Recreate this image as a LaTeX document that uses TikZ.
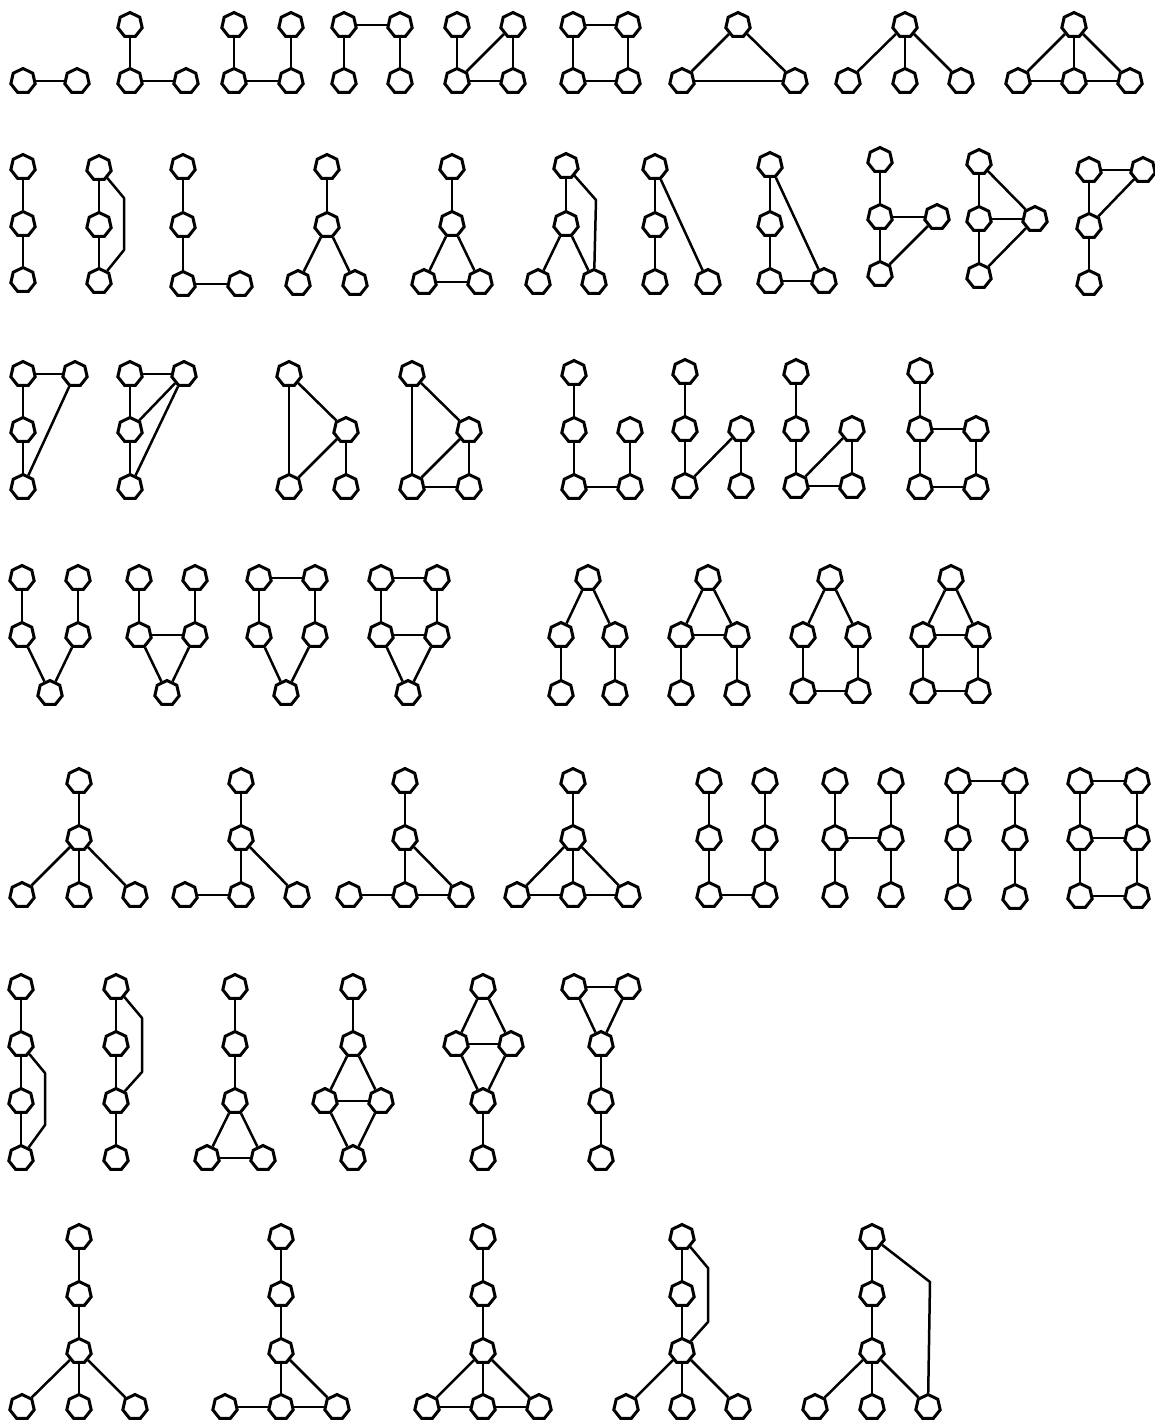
\documentclass[tikz,border=0pt]{standalone}
\usetikzlibrary{shapes.geometric}
\tikzset{
  vx/.style={draw, regular polygon, regular polygon sides=7, minimum size=12.5pt, inner sep=0pt, line width=1.5pt, fill=white},
  ed/.style={line width=1.25pt, line join=round}
}
\newcommand\mknode[3]{\node[vx] (#1) at (#2,#3) {};}
\begin{document}
\begin{tikzpicture}[x=0.5pt, y=-0.5pt]
\useasboundingbox (0,0) rectangle (1155,1420);
% Row 1
\mknode{g1a}{23}{81}\mknode{g1b}{77}{81}
\mknode{g2a}{130}{25}\mknode{g2b}{130}{81}\mknode{g2c}{186}{81}
\mknode{g3a}{234}{25}\mknode{g3b}{234}{81}\mknode{g3c}{291}{25}\mknode{g3d}{291}{81}
\mknode{g4a}{344}{25}\mknode{g4b}{344}{81}\mknode{g4c}{400}{25}\mknode{g4d}{400}{81}
\mknode{g5a}{457}{25}\mknode{g5b}{457}{81}\mknode{g5c}{513}{25}\mknode{g5d}{513}{81}
\mknode{g6a}{573}{25}\mknode{g6b}{573}{81}\mknode{g6c}{628}{25}\mknode{g6d}{628}{81}
\mknode{g7a}{738}{25}\mknode{g7b}{682}{81}\mknode{g7c}{795}{81}
\mknode{g8a}{905}{25}\mknode{g8b}{848}{81}\mknode{g8c}{905}{81}\mknode{g8d}{961}{81}
\mknode{g9a}{1074}{25}\mknode{g9b}{1018}{81}\mknode{g9c}{1074}{81}\mknode{g9d}{1130}{81}
% Row 2
\mknode{g10a}{23}{167}\mknode{g10b}{23}{224}\mknode{g10c}{23}{280}
\mknode{g11a}{99}{168}\mknode{g11b}{99}{225}\mknode{g11c}{99}{281}
\mknode{g12a}{183}{167}\mknode{g12b}{183}{225}\mknode{g12c}{183}{284}\mknode{g12d}{240}{284}
\mknode{g13a}{327}{167}\mknode{g13b}{327}{225}\mknode{g13c}{298}{283}\mknode{g13d}{355}{283}
\mknode{g14a}{452}{167}\mknode{g14b}{452}{224}\mknode{g14c}{424}{282}\mknode{g14d}{480}{282}
\mknode{g15a}{566}{166}\mknode{g15b}{566}{224}\mknode{g15c}{538}{282}\mknode{g15d}{594}{282}
\mknode{g16a}{655}{167}\mknode{g16b}{655}{225}\mknode{g16c}{655}{282}\mknode{g16d}{708}{282}
\mknode{g17a}{770}{165}\mknode{g17b}{770}{224}\mknode{g17c}{770}{281}\mknode{g17d}{824}{281}
\mknode{g18a}{880}{160}\mknode{g18b}{880}{217}\mknode{g18c}{937}{217}\mknode{g18d}{880}{274}
\mknode{g19a}{979}{162}\mknode{g19b}{979}{219}\mknode{g19c}{1035}{219}\mknode{g19d}{979}{276}
\mknode{g20a}{1089}{170}\mknode{g20c}{1143}{170}\mknode{g20b}{1089}{226}\mknode{g20d}{1089}{283}
% Row 3
\mknode{g21a}{23}{374}\mknode{g21t}{75}{374}\mknode{g21b}{23}{430}\mknode{g21c}{23}{487}
\mknode{g22a}{130}{374}\mknode{g22t}{184}{374}\mknode{g22b}{130}{430}\mknode{g22c}{130}{487}
\mknode{g23a}{289}{374}\mknode{g23r}{346}{430}\mknode{g23b}{289}{487}\mknode{g23d}{346}{487}
\mknode{g24a}{412}{374}\mknode{g24r}{469}{430}\mknode{g24b}{412}{487}\mknode{g24d}{469}{487}
\mknode{g25a}{574}{373}\mknode{g25b}{574}{430}\mknode{g25c}{574}{487}\mknode{g25r}{630}{430}\mknode{g25d}{630}{487}
\mknode{g26a}{685}{372}\mknode{g26b}{685}{429}\mknode{g26c}{685}{486}\mknode{g26r}{741}{429}\mknode{g26d}{741}{486}
\mknode{g27a}{796}{372}\mknode{g27b}{796}{429}\mknode{g27c}{796}{486}\mknode{g27r}{852}{429}\mknode{g27d}{852}{486}
\mknode{g28a}{920}{371}\mknode{g28b}{920}{429}\mknode{g28c}{920}{487}\mknode{g28r}{976}{429}\mknode{g28d}{976}{487}
% Row 4
\mknode{g29a}{22}{578}\mknode{g29b}{78}{578}\mknode{g29c}{22}{635}\mknode{g29d}{78}{635}\mknode{g29e}{50}{693}
\mknode{g30a}{139}{578}\mknode{g30b}{195}{578}\mknode{g30c}{139}{635}\mknode{g30d}{195}{635}\mknode{g30e}{167}{693}
\mknode{g31a}{259}{578}\mknode{g31b}{315}{578}\mknode{g31c}{259}{635}\mknode{g31d}{315}{635}\mknode{g31e}{286}{693}
\mknode{g32a}{381}{578}\mknode{g32b}{437}{578}\mknode{g32c}{381}{635}\mknode{g32d}{437}{635}\mknode{g32e}{408}{693}
\mknode{g33a}{588}{578}\mknode{g33b}{561}{635}\mknode{g33c}{615}{635}\mknode{g33d}{561}{693}\mknode{g33e}{615}{693}
\mknode{g34a}{708}{578}\mknode{g34b}{681}{635}\mknode{g34c}{737}{635}\mknode{g34d}{681}{693}\mknode{g34e}{737}{693}
\mknode{g35a}{830}{578}\mknode{g35b}{803}{635}\mknode{g35c}{858}{635}\mknode{g35d}{803}{691}\mknode{g35e}{858}{691}
\mknode{g36a}{951}{578}\mknode{g36b}{923}{635}\mknode{g36c}{978}{635}\mknode{g36d}{923}{691}\mknode{g36e}{978}{691}
% Row 5
\mknode{g37a}{79}{781}\mknode{g37b}{79}{838}\mknode{g37c}{22}{895}\mknode{g37d}{79}{895}\mknode{g37e}{135}{895}
\mknode{g38a}{241}{781}\mknode{g38b}{241}{838}\mknode{g38c}{185}{895}\mknode{g38d}{241}{895}\mknode{g38e}{297}{895}
\mknode{g39a}{405}{781}\mknode{g39b}{405}{838}\mknode{g39c}{349}{895}\mknode{g39d}{405}{895}\mknode{g39e}{461}{895}
\mknode{g40a}{573}{781}\mknode{g40b}{573}{838}\mknode{g40c}{517}{895}\mknode{g40d}{573}{895}\mknode{g40e}{628}{895}
\mknode{g41a}{709}{781}\mknode{g41b}{709}{838}\mknode{g41c}{709}{895}\mknode{g41d}{765}{781}\mknode{g41e}{765}{838}\mknode{g41f}{765}{895}
\mknode{g42a}{835}{781}\mknode{g42b}{835}{838}\mknode{g42c}{835}{895}\mknode{g42d}{891}{781}\mknode{g42e}{891}{838}\mknode{g42f}{891}{895}
\mknode{g43a}{958}{781}\mknode{g43b}{958}{838}\mknode{g43c}{958}{897}\mknode{g43d}{1015}{781}\mknode{g43e}{1015}{838}\mknode{g43f}{1015}{897}
\mknode{g44a}{1080}{781}\mknode{g44b}{1080}{838}\mknode{g44c}{1080}{896}\mknode{g44d}{1137}{781}\mknode{g44e}{1137}{838}\mknode{g44f}{1137}{896}
% Row 6
\mknode{g45a}{21}{987}\mknode{g45b}{21}{1044}\mknode{g45c}{21}{1101}\mknode{g45d}{21}{1158}
\mknode{g46a}{116}{987}\mknode{g46b}{116}{1044}\mknode{g46c}{116}{1101}\mknode{g46d}{116}{1158}
\mknode{g47a}{235}{987}\mknode{g47b}{235}{1044}\mknode{g47c}{235}{1101}\mknode{g47d}{207}{1158}\mknode{g47e}{263}{1158}
\mknode{g48a}{353}{987}\mknode{g48b}{353}{1044}\mknode{g48c}{325}{1101}\mknode{g48d}{381}{1101}\mknode{g48e}{353}{1158}
\mknode{g49a}{483}{987}\mknode{g49b}{456}{1044}\mknode{g49c}{511}{1044}\mknode{g49d}{483}{1101}\mknode{g49e}{483}{1158}
\mknode{g50a}{574}{987}\mknode{g50b}{628}{987}\mknode{g50c}{601}{1044}\mknode{g50d}{601}{1101}\mknode{g50e}{601}{1158}
% Row 7
\mknode{g51a}{79}{1237}\mknode{g51b}{79}{1294}\mknode{g51c}{79}{1351}\mknode{g51d}{22}{1407}\mknode{g51e}{79}{1407}\mknode{g51f}{135}{1407}
\mknode{g52a}{281}{1237}\mknode{g52b}{281}{1294}\mknode{g52c}{281}{1351}\mknode{g52d}{225}{1407}\mknode{g52e}{281}{1407}\mknode{g52f}{337}{1407}
\mknode{g53a}{483}{1237}\mknode{g53b}{483}{1294}\mknode{g53c}{483}{1351}\mknode{g53d}{427}{1407}\mknode{g53e}{483}{1407}\mknode{g53f}{539}{1407}
\mknode{g54a}{682}{1237}\mknode{g54b}{682}{1294}\mknode{g54c}{682}{1351}\mknode{g54d}{626}{1407}\mknode{g54e}{682}{1407}\mknode{g54f}{738}{1407}
\mknode{g55a}{872}{1237}\mknode{g55b}{872}{1294}\mknode{g55c}{872}{1351}\mknode{g55d}{815}{1407}\mknode{g55e}{872}{1407}\mknode{g55f}{928}{1407}
% bend points
\coordinate (k11a) at (124,198); \coordinate (k11b) at (124,250);
\coordinate (k15) at (596,200);
\coordinate (k45a) at (45,1073); \coordinate (k45b) at (45,1125);
\coordinate (k46a) at (142,1018); \coordinate (k46b) at (142,1072);
\coordinate (k54a) at (708,1268); \coordinate (k54b) at (708,1322);
\coordinate (k55) at (930,1282);
% edges
\foreach \p/\q in {g1a/g1b, g2a/g2b, g2b/g2c, g3a/g3b, g3c/g3d, g3b/g3d,
  g4a/g4b, g4c/g4d, g4a/g4c, g5a/g5b, g5c/g5d, g5b/g5d, g5b/g5c,
  g6a/g6b, g6c/g6d, g6a/g6c, g6b/g6d, g7a/g7b, g7a/g7c, g7b/g7c,
  g8a/g8b, g8a/g8c, g8a/g8d, g9a/g9b, g9a/g9c, g9a/g9d, g9b/g9c, g9c/g9d,
  g10a/g10b, g10b/g10c, g11a/g11b, g11b/g11c,
  g12a/g12b, g12b/g12c, g12c/g12d, g13a/g13b, g13b/g13c, g13b/g13d,
  g14a/g14b, g14b/g14c, g14b/g14d, g14c/g14d, g15a/g15b, g15b/g15c, g15b/g15d,
  g16a/g16b, g16b/g16c, g16a/g16d, g17a/g17b, g17b/g17c, g17a/g17d, g17c/g17d,
  g18a/g18b, g18b/g18d, g18b/g18c, g18c/g18d,
  g19a/g19b, g19b/g19d, g19a/g19c, g19b/g19c, g19c/g19d,
  g20a/g20c, g20a/g20b, g20c/g20b, g20b/g20d,
  g21a/g21t, g21a/g21b, g21b/g21c, g21t/g21c,
  g22a/g22t, g22a/g22b, g22b/g22c, g22t/g22b, g22t/g22c,
  g23a/g23b, g23a/g23r, g23r/g23b, g23r/g23d,
  g24a/g24b, g24a/g24r, g24r/g24b, g24r/g24d, g24b/g24d,
  g25a/g25b, g25b/g25c, g25r/g25d, g25c/g25d,
  g26a/g26b, g26b/g26c, g26c/g26r, g26r/g26d,
  g27a/g27b, g27b/g27c, g27c/g27r, g27r/g27d, g27c/g27d,
  g28a/g28b, g28b/g28c, g28b/g28r, g28r/g28d, g28c/g28d,
  g29a/g29c, g29b/g29d, g29c/g29e, g29d/g29e,
  g30a/g30c, g30b/g30d, g30c/g30d, g30c/g30e, g30d/g30e,
  g31a/g31b, g31a/g31c, g31b/g31d, g31c/g31e, g31d/g31e,
  g32a/g32b, g32a/g32c, g32b/g32d, g32c/g32d, g32c/g32e, g32d/g32e,
  g33a/g33b, g33a/g33c, g33b/g33d, g33c/g33e,
  g34a/g34b, g34a/g34c, g34b/g34c, g34b/g34d, g34c/g34e,
  g35a/g35b, g35a/g35c, g35b/g35d, g35c/g35e, g35d/g35e,
  g36a/g36b, g36a/g36c, g36b/g36c, g36b/g36d, g36c/g36e, g36d/g36e,
  g37a/g37b, g37b/g37c, g37b/g37d, g37b/g37e,
  g38a/g38b, g38b/g38d, g38b/g38e, g38c/g38d,
  g39a/g39b, g39b/g39d, g39b/g39e, g39c/g39d, g39d/g39e,
  g40a/g40b, g40b/g40c, g40b/g40d, g40b/g40e, g40c/g40d, g40d/g40e,
  g41a/g41b, g41b/g41c, g41d/g41e, g41e/g41f, g41c/g41f,
  g42a/g42b, g42b/g42c, g42d/g42e, g42e/g42f, g42b/g42e,
  g43a/g43b, g43b/g43c, g43d/g43e, g43e/g43f, g43a/g43d,
  g44a/g44b, g44b/g44c, g44d/g44e, g44e/g44f, g44a/g44d, g44b/g44e, g44c/g44f,
  g45a/g45b, g45b/g45c, g45c/g45d, g46a/g46b, g46b/g46c, g46c/g46d,
  g47a/g47b, g47b/g47c, g47c/g47d, g47c/g47e, g47d/g47e,
  g48a/g48b, g48b/g48c, g48b/g48d, g48c/g48d, g48c/g48e, g48d/g48e,
  g49a/g49b, g49a/g49c, g49b/g49c, g49b/g49d, g49c/g49d, g49d/g49e,
  g50a/g50b, g50a/g50c, g50b/g50c, g50c/g50d, g50d/g50e,
  g51a/g51b, g51b/g51c, g51c/g51d, g51c/g51e, g51c/g51f,
  g52a/g52b, g52b/g52c, g52c/g52e, g52c/g52f, g52d/g52e, g52e/g52f,
  g53a/g53b, g53b/g53c, g53c/g53d, g53c/g53e, g53c/g53f, g53d/g53e, g53e/g53f,
  g54a/g54b, g54b/g54c, g54c/g54d, g54c/g54e, g54c/g54f,
  g55a/g55b, g55b/g55c, g55c/g55d, g55c/g55e, g55c/g55f}
  \draw[ed] (\p) -- (\q);
% polylines
\draw[ed] (g11a) -- (k11a) -- (k11b) -- (g11c);
\draw[ed] (g15a) -- (k15) -- (g15d);
\draw[ed] (g45b) -- (k45a) -- (k45b) -- (g45d);
\draw[ed] (g46a) -- (k46a) -- (k46b) -- (g46c);
\draw[ed] (g54a) -- (k54a) -- (k54b) -- (g54c);
\draw[ed] (g55a) -- (k55) -- (g55f);
\end{tikzpicture}
\end{document}
